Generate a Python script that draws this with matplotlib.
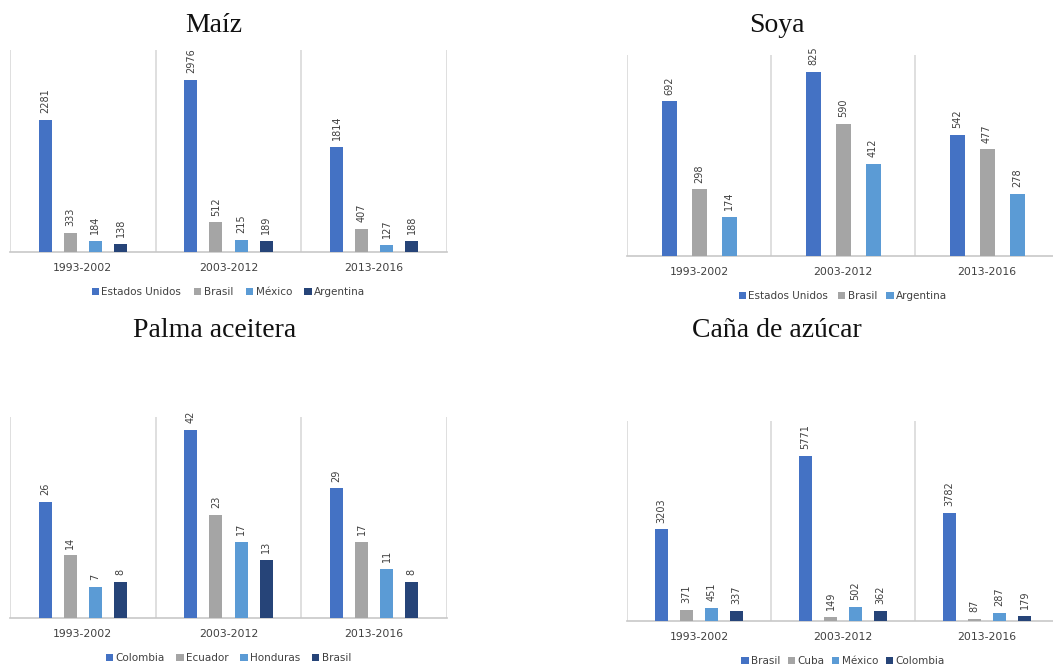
import matplotlib
matplotlib.use("Agg")
import matplotlib.pyplot as plt
from matplotlib.patches import Patch

# Periods shared by all four crops
periods = ["1993-2002", "2003-2012", "2013-2016"]

# Maíz
maiz_countries = ["Estados Unidos", "Brasil", "México", "Argentina"]
maiz_values = [
    [2281, 2976, 1814],
    [333, 512, 407],
    [184, 215, 127],
    [138, 189, 188],
]

# Soya
soya_countries = ["Estados Unidos", "Brasil", "Argentina"]
soya_values = [
    [692, 825, 542],
    [298, 590, 477],
    [174, 412, 278],
]

# Palma aceitera
palma_countries = ["Colombia", "Ecuador", "Honduras", "Brasil"]
palma_values = [
    [26, 42, 29],
    [14, 23, 17],
    [7, 17, 11],
    [8, 13, 8],
]

# Caña de azúcar
cana_countries = ["Brasil", "Cuba", "México", "Colombia"]
cana_values = [
    [3203, 5771, 3782],
    [371, 149, 87],
    [451, 502, 287],
    [337, 362, 179],
]

COLORS4 = ["#4472C4", "#A5A5A5", "#5B9BD5", "#264478"]
COLORS3 = ["#4472C4", "#A5A5A5", "#5B9BD5"]
GRID = "#D9D9D9"
TEXT = "#404040"

W, H = 1053, 671
fig = plt.figure(figsize=(W / 100, H / 100), dpi=100)
fig.patch.set_facecolor("white")


def px_axes(left, top, right, bottom):
    return fig.add_axes([left / W, 1 - bottom / H, (right - left) / W, (bottom - top) / H])


def panel(box, countries, values, colors, ymax, width, step, colspace):
    left, top, right, bottom = box
    ax = px_axes(left, top, right, bottom)
    n = len(countries)
    for i, (name, vals, col) in enumerate(zip(countries, values, colors)):
        off = (i - (n - 1) / 2) * step
        xs = [k + off for k in range(len(periods))]
        bars = ax.bar(xs, vals, width=width, color=col, label=name, zorder=3)
        for b, v in zip(bars, vals):
            ax.annotate(str(v), (b.get_x() + b.get_width() / 2, b.get_height()),
                        xytext=(0, 5), textcoords="offset points",
                        rotation=90, ha="center", va="bottom",
                        fontsize=7, color=TEXT)
    ax.set_xlim(-0.5, len(periods) - 0.5)
    ax.set_ylim(0, ymax)
    for xv in [-0.5 + k for k in range(len(periods) + 1)]:
        ax.axvline(xv, color=GRID, lw=1.2, zorder=1)
    for s in ["top", "left", "right"]:
        ax.spines[s].set_visible(False)
    ax.spines["bottom"].set_color("#C8C8C8")
    ax.spines["bottom"].set_linewidth(1.2)
    ax.set_yticks([])
    ax.set_xticks(range(len(periods)))
    ax.set_xticklabels(periods, fontsize=7.8, color=TEXT)
    ax.tick_params(axis="x", length=0, pad=8)
    handles = [Patch(facecolor=c, label=nm) for c, nm in zip(colors, countries)]
    ax.legend(handles=handles, loc="center", ncol=n, frameon=False,
              bbox_to_anchor=(0.5, -40 / (bottom - top)),
              fontsize=7.5, labelcolor=TEXT, handlelength=0.7, handleheight=0.7,
              handletextpad=0.25, columnspacing=colspace)
    ax.set_facecolor("none")
    return ax


panel((10, 50, 447, 252), maiz_countries, maiz_values, COLORS4, 3500, 13 / 145, 25 / 145, 1.2)
panel((627, 55, 1059, 256), soya_countries, soya_values, COLORS3, 900, 15 / 144, 30 / 144, 0.9)
panel((10, 417, 447, 618), palma_countries, palma_values, COLORS4, 45, 13 / 145, 25 / 145, 1.1)
panel((627, 421, 1059, 621), cana_countries, cana_values, COLORS4, 7000, 13 / 144, 25 / 144, 0.7)

title_kw = dict(ha="center", va="baseline", fontsize=20, family="Liberation Serif", color="#111111")
fig.text(214 / W, 1 - 32 / H, "Maíz", **title_kw)
fig.text(777 / W, 1 - 32 / H, "Soya", **title_kw)
fig.text(215 / W, 1 - 337 / H, "Palma aceitera", **title_kw)
fig.text(777 / W, 1 - 337 / H, "Caña de azúcar", **title_kw)

fig.savefig("out.png", dpi=100, facecolor="white")
